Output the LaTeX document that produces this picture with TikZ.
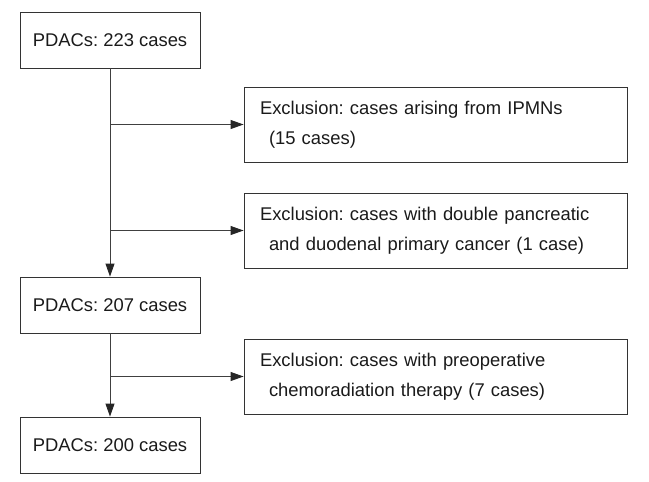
\documentclass[tikz,border=0pt]{standalone}
\usepackage{fontspec}
\setmainfont{Liberation Sans}
\frenchspacing
\usetikzlibrary{arrows.meta,positioning}
\definecolor{boxline}{HTML}{333333}
\definecolor{conn}{HTML}{404040}
\definecolor{txt}{HTML}{1A1A1A}
\tikzset{
  mainbox/.style={draw=boxline, line width=0.9pt, minimum width=180pt, minimum height=56pt, inner sep=0pt,
    font=\fontsize{18.4}{30}\selectfont, text=txt},
  exclbox/.style={draw=boxline, line width=0.9pt, minimum width=383pt, minimum height=75pt, inner xsep=16pt, inner ysep=0pt,
    text width=351pt, align=left, font=\fontsize{18.4}{30}\selectfont, text=txt},
  flow/.style={draw=conn, line width=0.9pt, -{Triangle[length=13pt,width=9pt,fill=black!85,color=black!85]}}
}
\begin{document}
\begin{tikzpicture}[x=1pt,y=-1pt]
\useasboundingbox (0,0) rectangle (649,482);
\node[mainbox] (b1) at (110,40) {PDACs: 223 cases};
\node[mainbox] (b2) at (110,305) {PDACs: 207 cases};
\node[mainbox] (b3) at (110,445) {PDACs: 200 cases};
\node[exclbox] (e1) at (435.5,124.5) {Exclusion: cases arising from IPMNs\\\hspace*{9pt}(15 cases)};
\node[exclbox] (e2) at (435.5,230.5) {Exclusion: cases with double pancreatic\\\hspace*{9pt}and duodenal primary cancer (1 case)};
\node[exclbox] (e3) at (435.5,376.5) {Exclusion: cases with preoperative\\\hspace*{9pt}chemoradiation therapy (7 cases)};
\draw[flow] (b1.south) -- (b2.north);
\draw[flow] (b2.south) -- (b3.north);
\draw[flow] (b1.south |- e1.west) -- (e1.west);
\draw[flow] (b1.south |- e2.west) -- (e2.west);
\draw[flow] (b2.south |- e3.west) -- (e3.west);
\end{tikzpicture}
\end{document}
